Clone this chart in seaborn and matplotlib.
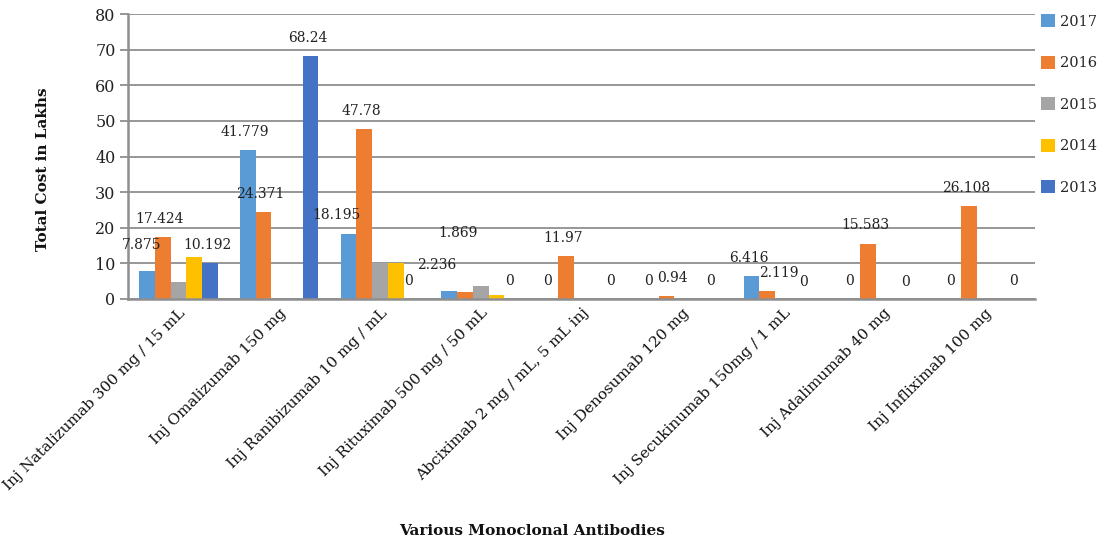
import matplotlib
matplotlib.use("Agg")
import matplotlib.pyplot as plt
import pandas as pd
import seaborn as sns

##### data #####
drugs = [
    "Inj Natalizumab 300 mg / 15 mL",
    "Inj Omalizumab 150 mg",
    "Inj Ranibizumab 10 mg / mL",
    "Inj Rituximab 500 mg / 50 mL",
    "Abciximab 2 mg / mL, 5 mL inj",
    "Inj Denosumab 120 mg",
    "Inj Secukinumab 150mg / 1 mL",
    "Inj Adalimumab 40 mg",
    "Inj Infliximab 100 mg",
]
years = ["2017", "2016", "2015", "2014", "2013"]
cost_2017 = [7.875, 41.779, 18.195, 2.236, 0, 0, 6.416, 0, 0]
cost_2016 = [17.424, 24.371, 47.78, 1.869, 11.97, 0.94, 2.119, 15.583, 26.108]
cost_2015 = [4.8, 0, 10.1, 3.7, 0, 0, 0, 0, 0]
cost_2014 = [11.7, 0, 10.1, 1.0, 0, 0, 0, 0, 0]
cost_2013 = [10.192, 68.24, 0, 0, 0, 0, 0, 0, 0]
# only these series carry value labels in the original
labelled_years = ["2017", "2016", "2013"]

colors = ["#5B9BD5", "#ED7D31", "#A5A5A5", "#FFC000", "#4472C4"]

# long table for seaborn
series = [cost_2017, cost_2016, cost_2015, cost_2014, cost_2013]
rows = []
for year, vals in zip(years, series):
    for drug, v in zip(drugs, vals):
        rows.append({"drug": drug, "year": year, "cost": v})
df = pd.DataFrame(rows)

##### plot #####
sns.set_theme(style="white")
plt.rcParams["font.family"] = ["DejaVu Serif"]
grid_col = "#8f8f8f"

fig = plt.figure(figsize=(11, 5.45), dpi=100)
ax = fig.add_axes([0.1164, 0.4514, 0.8245, 0.5226])

sns.barplot(data=df, x="drug", y="cost", hue="year", order=drugs,
            hue_order=years, palette=colors, saturation=1, width=0.78,
            linewidth=0, ax=ax)

ax.set_ylim(0, 80)
ax.set_yticks(range(0, 81, 10))
ax.yaxis.grid(True, color=grid_col, linewidth=1.3)
ax.set_axisbelow(True)
for side in ["top", "right"]:
    ax.spines[side].set_visible(False)
for side in ["left", "bottom"]:
    ax.spines[side].set_color(grid_col)
    ax.spines[side].set_linewidth(1.8)
ax.tick_params(axis="y", length=6, width=1.3, color=grid_col, labelsize=11.5,
               labelcolor="#222222", pad=3, left=True)
ax.tick_params(axis="x", length=0, pad=5)
ax.set_xticks(range(len(drugs)))
ax.set_xticklabels(drugs, rotation=45, ha="right", rotation_mode="anchor",
                   fontsize=11, color="#111111")

ax.set_xlabel("Various Monoclonal Antibodies", fontsize=11, fontweight="bold",
              color="#111111", labelpad=0)
ax.xaxis.set_label_coords(0.445, -0.79)
ax.set_ylabel("Total Cost in Lakhs", fontsize=11, fontweight="bold",
              color="#111111")
ax.yaxis.set_label_coords(-0.086, 0.456)

# value labels (offsets in points, tweaked where the original shifts them)
label_shift = {
    ("2017", 0): (-4, 14), ("2017", 2): (-9, 9), ("2017", 3): (-9, 14),
    ("2016", 3): (-5, 38), ("2016", 5): (4, 8), ("2016", 6): (8, 8),
    ("2013", 6): (-8, 7), ("2013", 7): (-7, 7),
}
for year, cont in zip(years, ax.containers):
    if year not in labelled_years:
        continue
    vals = series[years.index(year)]
    for i, (bar, v) in enumerate(zip(cont, vals)):
        dx, dy = label_shift.get((year, i), (-2, 8))
        txt = f"{v:g}"
        ax.annotate(txt, (bar.get_x() + bar.get_width() / 2, v),
                    xytext=(dx, dy), textcoords="offset points",
                    ha="center", va="bottom", fontsize=10, color="#222222")

# legend on the right
handles, labels = ax.get_legend_handles_labels()
ax.legend(handles, labels, loc="upper left", bbox_to_anchor=(1.0, 1.02),
          frameon=False, fontsize=10.5, handlelength=1.0, handleheight=1.0,
          handletextpad=0.3, labelspacing=1.85, borderaxespad=0)

fig.savefig("out.png", dpi=100)
